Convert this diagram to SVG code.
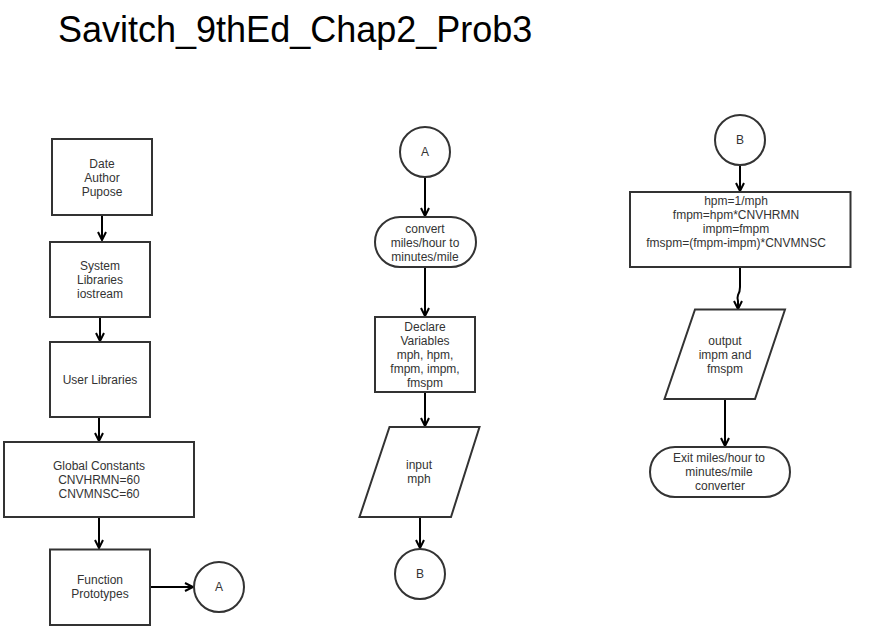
<svg xmlns="http://www.w3.org/2000/svg" width="873" height="644" viewBox="0 0 873 644">
<defs>
<marker id="arr" markerUnits="userSpaceOnUse" markerWidth="12" markerHeight="12" refX="9" refY="5" orient="auto" viewBox="0 0 12 10">
<path d="M1,1 L9,5 L1,9" fill="none" stroke="#000" stroke-width="2"/>
</marker>
</defs>
<style>
.s{fill:#fff;stroke:#333;stroke-width:2}
.t{font-family:"Liberation Sans",Arial,sans-serif;font-size:12px;fill:#333;text-anchor:middle}
.c{fill:none;stroke:#000;stroke-width:2;marker-end:url(#arr)}
</style>
<rect width="873" height="644" fill="#fff"/>
<text x="58" y="42" style="font-family:'Liberation Sans',Arial,sans-serif;font-size:36px;fill:#000">Savitch_9thEd_Chap2_Prob3</text>
<g id="connectors">
<path class="c" d="M102,215 V240"/>
<path class="c" d="M100,317 V341"/>
<path class="c" d="M99,417 V441"/>
<path class="c" d="M99,517 V548"/>
<path class="c" d="M150,587 H193"/>
<path class="c" d="M425,177 V216"/>
<path class="c" d="M425,267 V316"/>
<path class="c" d="M425,392 V426"/>
<path class="c" d="M420,517 V548"/>
<path class="c" d="M740,165 V191"/>
<path class="c" d="M740,267 V287 Q740,292 738,295 Q737,298 738,301 V309"/>
<path class="c" d="M725,399 V446"/>
</g>
<g id="date"><rect class="s" x="52" y="139" width="100" height="76"/>
<text class="t"><tspan x="102" y="167.5">Date</tspan><tspan x="102" y="181.5">Author</tspan><tspan x="102" y="195.5">Pupose</tspan></text></g>
<g id="syslib"><rect class="s" x="50" y="242" width="100" height="75"/>
<text class="t"><tspan x="100" y="270">System</tspan><tspan x="100" y="284">Libraries</tspan><tspan x="100" y="298">iostream</tspan></text></g>
<g id="userlib"><rect class="s" x="50" y="342" width="100" height="75"/>
<text class="t" x="100" y="383.5">User Libraries</text></g>
<g id="global"><rect class="s" x="4" y="442" width="190" height="75"/>
<text class="t"><tspan x="99" y="470">Global Constants</tspan><tspan x="99" y="484">CNVHRMN=60</tspan><tspan x="99" y="498">CNVMNSC=60</tspan></text></g>
<g id="proto"><rect class="s" x="50" y="549.5" width="100" height="75.5"/>
<text class="t"><tspan x="100" y="584">Function</tspan><tspan x="100" y="598">Prototypes</tspan></text></g>
<g id="connA1"><circle class="s" cx="219" cy="587" r="25"/>
<text class="t" x="219" y="591">A</text></g>
<g id="connA2"><circle class="s" cx="425" cy="152" r="25"/>
<text class="t" x="425" y="156">A</text></g>
<g id="start"><rect class="s" x="375" y="217" width="101" height="50" rx="25" ry="25"/>
<text class="t"><tspan x="425" y="232.5">convert</tspan><tspan x="425" y="246.5">miles/hour to</tspan><tspan x="425" y="260.5">minutes/mile</tspan></text></g>
<g id="declare"><rect class="s" x="375" y="317" width="100" height="75"/>
<text class="t"><tspan x="425" y="331">Declare</tspan><tspan x="425" y="345">Variables</tspan><tspan x="425" y="359">mph, hpm,</tspan><tspan x="425" y="373">fmpm, impm,</tspan><tspan x="425" y="387">fmspm</tspan></text></g>
<g id="input"><polygon class="s" points="389.5,427 479.5,427 451,517 359.5,517"/>
<text class="t"><tspan x="419" y="469">input</tspan><tspan x="419" y="483">mph</tspan></text></g>
<g id="connB1"><circle class="s" cx="420" cy="574" r="25"/>
<text class="t" x="420" y="578">B</text></g>
<g id="connB2"><circle class="s" cx="740" cy="140" r="25"/>
<text class="t" x="740" y="144">B</text></g>
<g id="compute"><rect class="s" x="630" y="192" width="220.5" height="75"/>
<text class="t"><tspan x="736" y="205">hpm=1/mph</tspan><tspan x="736" y="219">fmpm=hpm*CNVHRMN</tspan><tspan x="736" y="233">impm=fmpm</tspan><tspan x="736" y="247">fmspm=(fmpm-impm)*CNVMNSC</tspan></text></g>
<g id="output"><polygon class="s" points="695,309.5 785,309.5 755,399 664.5,399"/>
<text class="t"><tspan x="725" y="345">output</tspan><tspan x="725" y="359">impm and</tspan><tspan x="725" y="373">fmspm</tspan></text></g>
<g id="exit"><rect class="s" x="650" y="447" width="140" height="50" rx="25" ry="25"/>
<text class="t"><tspan x="719" y="462">Exit miles/hour to</tspan><tspan x="719" y="476">minutes/mile</tspan><tspan x="720" y="490">converter</tspan></text></g>
</svg>
